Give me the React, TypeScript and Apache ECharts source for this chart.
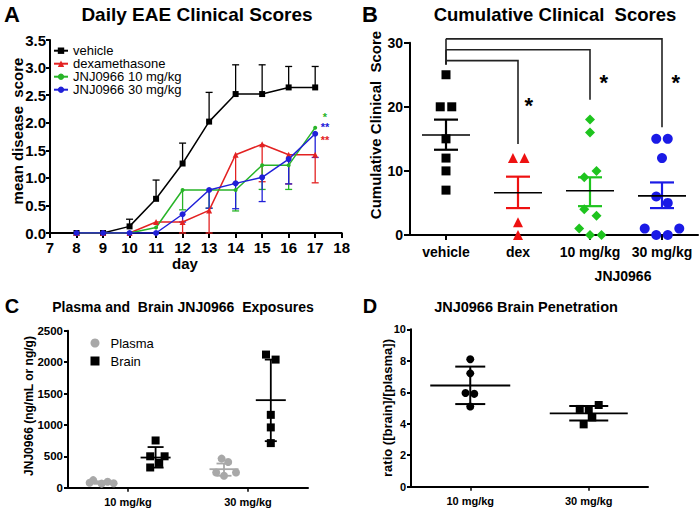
import React, { useEffect, useRef } from "react";
import * as echarts from "echarts";

const FONT = "'Liberation Sans', Arial, Helvetica, sans-serif";

// ---------- Panel A: daily clinical scores ----------
const days = [8, 9, 10, 11, 12, 13, 14, 15, 16, 17];
const vehicleScore = [0, 0, 0.12, 0.62, 1.26, 2.02, 2.52, 2.52, 2.64, 2.64];
const vehicleUpper = [null, null, 0.25, 0.96, 1.63, 2.55, 3.05, 3.05, 3.02, 3.02];
const dexScore = [0, 0, 0, 0.2, 0.2, 0.41, 1.42, 1.61, 1.42, 1.42];
const dexLower = [null, null, null, null, 0, 0, 0.9, 0.93, 0.89, 0.91];
const jnj10Score = [0, 0, 0, 0.1, 0.78, 0.78, 0.78, 1.23, 1.23, 1.91];
const jnj10Lower = [null, null, null, null, 0.42, 0.45, 0.4, 0.79, 0.79, null];
const jnj30Score = [0, 0, 0, 0, 0.34, 0.78, 0.9, 1.01, 1.34, 1.8];
const jnj30Lower = [null, null, null, null, 0.2, 0.45, 0.44, 0.57, 0.89, 1.37];
const seriesNamesA = ["vehicle", "dexamethasone", "JNJ0966 10 mg/kg", "JNJ0966 30 mg/kg"];
const starAx = [17.37, 17.37, 17.37];
const starAy = [2.1, 1.92, 1.69];
const starAText = ["*", "**", "**"];

// ---------- Panel B: cumulative clinical scores ----------
const cumCategories = ["vehicle", "dex", "10 mg/kg", "30 mg/kg"];
const cumVehicle = [25, 20, 20, 15, 12, 10, 7];
const cumVehicleJit = [0, -0.08, 0.08, 0, 0, 0, 0];
const cumDex = [12, 12, 2, 0];
const cumDexJit = [-0.07, 0.09, 0, 0];
const cum10 = [18, 16, 10, 9, 4, 3, 1, 0, 0];
const cum10Jit = [0, 0, 0.09, -0.08, -0.08, 0.09, -0.15, 0, 0.16];
const cum30 = [15, 15, 12, 6, 5, 1, 1, 0, 0];
const cum30Jit = [-0.08, 0.08, 0, -0.08, 0.08, -0.24, 0.24, -0.08, 0.08];
const cumMean = [15.6, 6.6, 6.9, 6.1];
const cumSemLo = [13.3, 4.2, 4.5, 4.2];
const cumSemHi = [18.0, 9.1, 9.0, 8.2];
const bracketTarget = [1, 2, 3];
const bracketLevel = [27.2, 28.9, 30.6];
const bracketEnd = [14.2, 21.1, 16.8];
const vehicleBracketEnd = 26.6;
const starBx = [1.15, 2.19, 3.19];
const starBy = [20.2, 23.8, 23.8];

// ---------- Panel C: exposures ----------
const doseCategories = ["10 mg/kg", "30 mg/kg"];
const plasma10 = [120, 95, 80, 70, 65];
const plasma10Jit = [-0.07, 0.05, -0.1, 0.1, 0];
const brain10 = [752, 500, 500, 394, 322];
const brain10Jit = [0, -0.045, 0.075, 0.03, -0.045];
const plasma30 = [463, 410, 243, 243, 189];
const plasma30Jit = [-0.02, 0.035, -0.065, 0.1, 0];
const brain30 = [2120, 2040, 1160, 960, 710];
const brain30Jit = [-0.04, 0.04, 0, 0, 0];
const expoCenter = [-0.22, 0.23, 0.8, 1.19];
const expoMean = [80, 480, 295, 1394];
const expoLo = [62, 320, 190, 741];
const expoHi = [102, 647, 385, 2040];

// ---------- Panel D: brain penetration ----------
const ratio10 = [8.1, 7.2, 5.95, 5.9, 5.1];
const ratio10Jit = [0, 0, -0.04, 0.034, 0];
const ratio30 = [5.19, 4.94, 4.87, 4.4, 3.96];
const ratio30Jit = [0.084, -0.076, 0, 0.03, -0.043];
const ratioMean = [6.43, 4.66];
const ratioLo = [5.25, 4.2];
const ratioHi = [7.63, 5.13];

const RED_A = "#e32222";
const GREEN_A = "#28b428";
const BLUE_A = "#2020d8";
const RED_B = "#ee1111";
const GREEN_B = "#1ec41e";
const BLUE_B = "#1a1ae6";
const GREY = "#a8a8a8";

function axisStyle(fontSize: number, margin: number, tickLen: number) {
  return {
    axisLine: { show: true, onZero: false, lineStyle: { color: "#000", width: 2 } },
    axisTick: { show: true, length: tickLen, lineStyle: { color: "#000", width: 2 } },
    axisLabel: { color: "#000", fontWeight: "bold", fontSize, fontFamily: FONT, margin, interval: 0 },
    splitLine: { show: false },
  };
}

function errSeriesA(color: string, means: number[], bounds: (number | null)[]) {
  const data: number[][] = [];
  days.forEach((d, i) => {
    const b = bounds[i];
    if (b !== null) data.push([d, means[i], b]);
  });
  return {
    type: "custom",
    xAxisIndex: 0,
    yAxisIndex: 0,
    silent: true,
    z: 2,
    data,
    renderItem: (_p: any, api: any) => {
      const x = api.value(0);
      const a = api.coord([x, api.value(1)]);
      const b = api.coord([x, api.value(2)]);
      const st = { stroke: color, lineWidth: 1.3 };
      return {
        type: "group",
        children: [
          { type: "line", shape: { x1: a[0], y1: a[1], x2: b[0], y2: b[1] }, style: st },
          { type: "line", shape: { x1: b[0] - 3.5, y1: b[1], x2: b[0] + 3.5, y2: b[1] }, style: st },
        ],
      };
    },
  };
}

function lineSeriesA(name: string, color: string, values: number[], symbol: string, size: number) {
  return {
    name,
    type: "line",
    xAxisIndex: 0,
    yAxisIndex: 0,
    data: days.map((d, i) => [d, values[i]]),
    symbol,
    symbolSize: size,
    showSymbol: true,
    lineStyle: { color, width: 1.5 },
    itemStyle: { color },
    z: 3,
  };
}

function textSeries(
  xAxisIndex: number,
  yAxisIndex: number,
  xs: number[],
  ys: number[],
  texts: string[],
  colors: string[],
  fontSize: number
) {
  return {
    type: "custom",
    xAxisIndex,
    yAxisIndex,
    silent: true,
    z: 6,
    data: xs.map((x, i) => [x, ys[i]]),
    renderItem: (p: any, api: any) => {
      const i = p.dataIndex;
      const c = api.coord([api.value(0), api.value(1)]);
      return {
        type: "text",
        x: c[0],
        y: c[1],
        style: {
          text: texts[i],
          fill: colors[i],
          fontSize,
          fontWeight: "bold",
          fontFamily: FONT,
          align: "center",
          verticalAlign: "middle",
        },
      };
    },
  };
}

function meanErrSeries(
  xAxisIndex: number,
  yAxisIndex: number,
  xs: number[],
  means: number[],
  los: number[],
  his: number[],
  errColors: string[],
  meanColors: string[],
  halfMean: number[],
  halfCap: number[],
  meanWidth: number,
  errWidth: number
) {
  return {
    type: "custom",
    xAxisIndex,
    yAxisIndex,
    silent: true,
    z: 4,
    data: xs.map((x, i) => [x, means[i], los[i], his[i]]),
    renderItem: (p: any, api: any) => {
      const i = p.dataIndex;
      const x = api.value(0);
      const m = api.coord([x, api.value(1)]);
      const lo = api.coord([x, api.value(2)]);
      const hi = api.coord([x, api.value(3)]);
      const es = { stroke: errColors[i], lineWidth: errWidth };
      const ms = { stroke: meanColors[i], lineWidth: meanWidth };
      return {
        type: "group",
        children: [
          { type: "line", shape: { x1: lo[0], y1: lo[1], x2: hi[0], y2: hi[1] }, style: es },
          { type: "line", shape: { x1: lo[0] - halfCap[i], y1: lo[1], x2: lo[0] + halfCap[i], y2: lo[1] }, style: es },
          { type: "line", shape: { x1: hi[0] - halfCap[i], y1: hi[1], x2: hi[0] + halfCap[i], y2: hi[1] }, style: es },
          { type: "line", shape: { x1: m[0] - halfMean[i], y1: m[1], x2: m[0] + halfMean[i], y2: m[1] }, style: ms },
        ],
      };
    },
  };
}

function scatter(
  name: string | undefined,
  xAxisIndex: number,
  yAxisIndex: number,
  center: number,
  values: number[],
  jit: number[],
  symbol: string,
  size: number,
  color: string
) {
  return {
    name,
    type: "scatter",
    xAxisIndex,
    yAxisIndex,
    data: values.map((v, i) => [center + jit[i], v]),
    symbol,
    symbolSize: size,
    itemStyle: { color, opacity: 1 },
    z: 3,
    silent: true,
  };
}

function bracketSeries() {
  return {
    type: "custom",
    xAxisIndex: 2,
    yAxisIndex: 1,
    silent: true,
    z: 5,
    data: bracketTarget.map((t, i) => [t, bracketLevel[i], bracketEnd[i]]),
    renderItem: (_p: any, api: any) => {
      const t = api.value(0);
      const lvl = api.value(1);
      const end = api.value(2);
      const a = api.coord([0, lvl]);
      const b = api.coord([t, lvl]);
      const c = api.coord([t, end]);
      const v = api.coord([0, vehicleBracketEnd]);
      const st = { stroke: "#222", lineWidth: 1.6 };
      return {
        type: "group",
        children: [
          { type: "polyline", shape: { points: [a, b, c] }, style: { ...st, fill: "none" } },
          { type: "line", shape: { x1: a[0], y1: a[1], x2: v[0], y2: v[1] }, style: st },
        ],
      };
    },
  };
}

function gtext(text: string, x: number, y: number, size: number, weight = "bold", rotate = false) {
  return {
    type: "text",
    x,
    y,
    rotation: rotate ? Math.PI / 2 : 0,
    silent: true,
    style: {
      text,
      fill: "#000",
      fontSize: size,
      fontWeight: weight,
      fontFamily: FONT,
      align: "center",
      verticalAlign: "middle",
    },
  };
}

function buildOption() {
  return {
    animation: false,
    backgroundColor: "#fff",
    textStyle: { fontFamily: FONT },
    grid: [
      { left: 50, top: 40, width: 291.7, height: 193, outerBoundsMode: "none" },
      { left: 410, top: 42.7, width: 288, height: 192.3, outerBoundsMode: "none" },
      { left: 68, top: 330.7, width: 240, height: 157, outerBoundsMode: "none" },
      { left: 411, top: 329.3, width: 237, height: 157.4, outerBoundsMode: "none" },
    ],
    xAxis: [
      { type: "value", gridIndex: 0, min: 7, max: 18, interval: 1, ...axisStyle(15, 7, 5) },
      {
        type: "category",
        gridIndex: 1,
        data: cumCategories,
        boundaryGap: true,
        ...axisStyle(14, 10, 5),
        axisTick: { show: true, alignWithLabel: true, length: 5, lineStyle: { color: "#000", width: 2 } },
      },
      { type: "value", gridIndex: 1, min: -0.5, max: 3.5, show: false },
      {
        type: "category",
        gridIndex: 2,
        data: doseCategories,
        boundaryGap: true,
        ...axisStyle(11, 9, 4),
        axisTick: { show: true, alignWithLabel: true, length: 4, lineStyle: { color: "#000", width: 1.5 } },
      },
      { type: "value", gridIndex: 2, min: -0.5, max: 1.5, show: false },
      {
        type: "category",
        gridIndex: 3,
        data: doseCategories,
        boundaryGap: true,
        ...axisStyle(11, 9, 4),
        axisTick: { show: true, alignWithLabel: true, length: 4, lineStyle: { color: "#000", width: 1.5 } },
      },
      { type: "value", gridIndex: 3, min: -0.5, max: 1.5, show: false },
    ],
    yAxis: [
      {
        type: "value",
        gridIndex: 0,
        min: 0,
        max: 3.5,
        interval: 0.5,
        ...axisStyle(15, 4, 4),
        axisLabel: {
          color: "#000",
          fontWeight: "bold",
          fontSize: 15,
          fontFamily: FONT,
          margin: 4,
          formatter: (v: number) => v.toFixed(1),
        },
      },
      { type: "value", gridIndex: 1, min: 0, max: 30, interval: 10, ...axisStyle(14, 7, 6) },
      {
        type: "value",
        gridIndex: 2,
        min: 0,
        max: 2500,
        interval: 500,
        ...axisStyle(11.5, 5, 4),
        axisLabel: {
          color: "#000",
          fontWeight: "bold",
          fontSize: 11.5,
          fontFamily: FONT,
          margin: 5,
          formatter: (v: number) => String(v),
        },
      },
      { type: "value", gridIndex: 3, min: 0, max: 10, interval: 2, ...axisStyle(11, 5, 4) },
    ],
    legend: [
      {
        data: seriesNamesA,
        orient: "vertical",
        left: 53,
        top: 44.2,
        itemGap: 0,
        itemWidth: 14,
        itemHeight: 8,
        padding: 0,
        selectedMode: false,
        textStyle: { fontSize: 13, fontFamily: FONT, color: "#000", lineHeight: 13, padding: 0 },
      },
      {
        data: ["Plasma", "Brain"],
        orient: "vertical",
        left: 90.5,
        top: 336.5,
        itemGap: 5,
        itemWidth: 9,
        itemHeight: 9,
        padding: 0,
        selectedMode: false,
        textStyle: { fontSize: 13, fontFamily: FONT, color: "#000", lineHeight: 13, padding: [0, 0, 0, 6] },
      },
    ],
    graphic: [
      gtext("A", 12, 14, 22),
      gtext("Daily EAE Clinical Scores", 197, 14, 19),
      gtext("mean disease  score", 17, 131, 15, "bold", true),
      gtext("day", 185, 263, 15),
      gtext("B", 370, 14, 22),
      gtext("Cumulative Clinical  Scores", 555, 14, 18.5),
      gtext("Cumulative Clinical  Score", 375, 125, 15, "bold", true),
      gtext("JNJ0966", 623, 276, 14),
      gtext("C", 12, 306, 20),
      gtext("Plasma and  Brain JNJ0966  Exposures", 183, 307, 14),
      gtext("JNJ0966 (ng/mL or ng/g)", 29, 406, 12, "bold", true),
      gtext("D", 370, 306, 20),
      gtext("JNJ0966 Brain Penetration", 526, 307, 14.5),
      gtext("ratio ([brain]/[plasma])", 387, 408, 13, "bold", true),
    ],
    series: [
      // Panel A
      errSeriesA("#000", vehicleScore, vehicleUpper),
      errSeriesA(RED_A, dexScore, dexLower),
      errSeriesA(GREEN_A, jnj10Score, jnj10Lower),
      errSeriesA(BLUE_A, jnj30Score, jnj30Lower),
      lineSeriesA(seriesNamesA[0], "#000", vehicleScore, "rect", 6),
      lineSeriesA(seriesNamesA[1], RED_A, dexScore, "triangle", 6),
      lineSeriesA(seriesNamesA[2], GREEN_A, jnj10Score, "circle", 4),
      lineSeriesA(seriesNamesA[3], BLUE_A, jnj30Score, "circle", 6),
      textSeries(0, 0, starAx, starAy, starAText, [GREEN_A, BLUE_A, RED_A], 11),
      // Panel B
      scatter(undefined, 2, 1, 0, cumVehicle, cumVehicleJit, "rect", 9, "#000"),
      scatter(undefined, 2, 1, 1, cumDex, cumDexJit, "triangle", 10, RED_B),
      scatter(undefined, 2, 1, 2, cum10, cum10Jit, "diamond", 10, GREEN_B),
      scatter(undefined, 2, 1, 3, cum30, cum30Jit, "circle", 10, BLUE_B),
      meanErrSeries(
        2,
        1,
        [0, 1, 2, 3],
        cumMean,
        cumSemLo,
        cumSemHi,
        ["#000", RED_B, GREEN_B, BLUE_B],
        ["#000", "#000", "#000", "#000"],
        [24, 24, 24, 24],
        [12, 12, 12, 12],
        1.6,
        2.2
      ),
      bracketSeries(),
      textSeries(2, 1, starBx, starBy, ["*", "*", "*"], ["#000", "#000", "#000"], 22),
      // Panel C
      scatter("Plasma", 4, 2, expoCenter[0], plasma10, plasma10Jit, "circle", 8, GREY),
      scatter("Brain", 4, 2, expoCenter[1], brain10, brain10Jit, "rect", 8, "#000"),
      scatter("Plasma", 4, 2, expoCenter[2], plasma30, plasma30Jit, "circle", 8, GREY),
      scatter("Brain", 4, 2, expoCenter[3], brain30, brain30Jit, "rect", 8, "#000"),
      meanErrSeries(
        4,
        2,
        expoCenter,
        expoMean,
        expoLo,
        expoHi,
        [GREY, "#000", GREY, "#000"],
        [GREY, "#000", GREY, "#000"],
        [15, 15, 14.5, 15],
        [8, 8, 7.5, 6],
        1.8,
        1.8
      ),
      // Panel D
      scatter(undefined, 6, 3, 0, ratio10, ratio10Jit, "circle", 8, "#000"),
      scatter(undefined, 6, 3, 1, ratio30, ratio30Jit, "rect", 8, "#000"),
      meanErrSeries(
        6,
        3,
        [0, 1],
        ratioMean,
        ratioLo,
        ratioHi,
        ["#000", "#000"],
        ["#000", "#000"],
        [40, 39],
        [15, 19.5],
        1.8,
        2
      ),
    ],
  };
}

export default function App() {
  const ref = useRef<HTMLDivElement>(null);
  useEffect(() => {
    document.body.style.margin = "0";
    const chart = echarts.init(ref.current as HTMLDivElement, null, { renderer: "svg" });
    chart.setOption(buildOption() as any);
    return () => {
      chart.dispose();
    };
  }, []);
  return (
    <div
      ref={ref}
      style={{ position: "absolute", left: 0, top: 0, width: 700, height: 508, background: "#fff" }}
    />
  );
}
